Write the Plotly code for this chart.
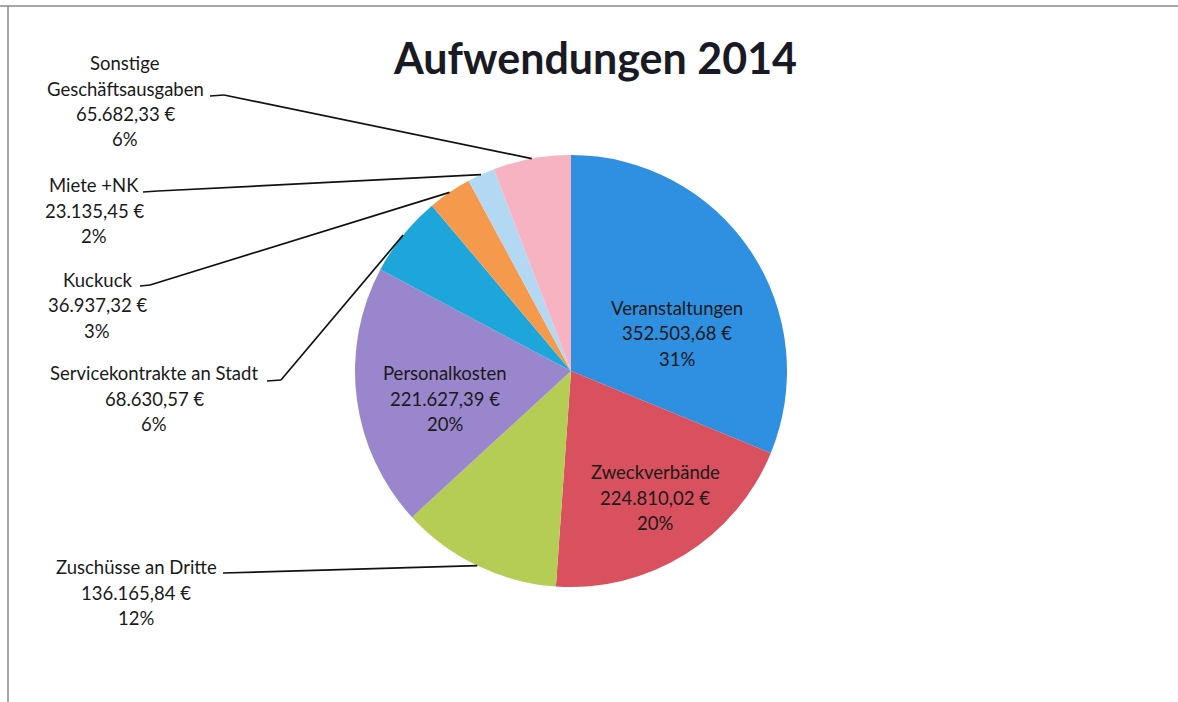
import math
import plotly.graph_objects as go

# ---- data ----
categories = ["Veranstaltungen", "Zweckverbände", "Zuschüsse an Dritte", "Personalkosten",
              "Servicekontrakte an Stadt", "Kuckuck", "Miete +NK", "Sonstige Geschäftsausgaben"]
values = [352503.68, 224810.02, 136165.84, 221627.39, 68630.57, 36937.32, 23135.45, 65682.33]
colors = ["#2f8fe0", "#d9505e", "#b6cd55", "#9a86cc", "#1ea6db", "#f59a4c", "#b3d8f3", "#f7b3c2"]
title_text = "Aufwendungen 2014"

W, H = 1178, 702
def px(x): return x / W
def py(y): return 1 - y / H

# pie geometry (pixels)
CX, CY, R = 571, 371, 216

total = sum(values)
def eur(v):
    s = f"{v:,.2f}"
    return s.replace(",", "X").replace(".", ",").replace("X", ".") + " €"

def label_lines(name, v):
    name_lines = ["Sonstige", "Geschäftsausgaben"] if name == "Sonstige Geschäftsausgaben" else [name]
    return name_lines + [eur(v), f"{round(v / total * 100):d}%"]

# label block layout: centre x, first-line y (pixels)
label_pos = {
    "Veranstaltungen": (677, 308),
    "Zweckverbände": (655, 472),
    "Personalkosten": (445, 373),
    "Zuschüsse an Dritte": (136, 567),
    "Servicekontrakte an Stadt": (154, 373),
    "Kuckuck": (97, 280),
    "Miete +NK": (94, 185),
    "Sonstige Geschäftsausgaben": (125, 63),
}
# leader line start segments (pixels), for outside labels
leader_start = {
    "Sonstige Geschäftsausgaben": [(210, 96), (224, 95)],
    "Miete +NK": [(143, 192), (158, 191)],
    "Kuckuck": [(140, 286), (150, 285)],
    "Servicekontrakte an Stadt": [(267, 381), (281, 380)],
    "Zuschüsse an Dritte": [(223, 573)],
}
LINE_GAP = 25.5
FONT = "Lato, Open Sans, sans-serif"
TXT = "#1a1a1a"

fig = go.Figure(go.Pie(
    labels=categories, values=values, sort=False, direction="clockwise", rotation=0,
    marker=dict(colors=colors, line=dict(width=0)),
    textinfo="none", hoverinfo="label+value+percent", showlegend=False,
    domain=dict(x=[px(CX - R), px(CX + R)], y=[py(CY + R), py(CY - R)]),
))

annotations = [dict(text=f"<b>{title_text}</b>", x=px(595), y=py(57), xref="paper", yref="paper",
                    showarrow=False, xanchor="center", yanchor="middle",
                    font=dict(family=FONT, size=43, color="#1a1a24"))]
for name, v in zip(categories, values):
    cx, y0 = label_pos[name]
    for i, line in enumerate(label_lines(name, v)):
        annotations.append(dict(text=line, x=px(cx), y=py(y0 + i * LINE_GAP), xref="paper", yref="paper",
                                showarrow=False, xanchor="center", yanchor="middle",
                                font=dict(family=FONT, size=18.5, color=TXT)))

shapes = []
# leader lines to slice mid-angle on pie edge
cum = 0.0
for name, v in zip(categories, values):
    frac_mid = (cum + v / 2) / total
    cum += v
    if name not in leader_start:
        continue
    th = 2 * math.pi * frac_mid
    ex, ey = CX + R * math.sin(th), CY - R * math.cos(th)
    pts = leader_start[name] + [(ex, ey)]
    for (x0, y0), (x1, y1) in zip(pts[:-1], pts[1:]):
        shapes.append(dict(type="line", xref="paper", yref="paper",
                           x0=px(x0), y0=py(y0), x1=px(x1), y1=py(y1),
                           line=dict(color="#111111", width=1.7)))

# frame lines (top and left)
shapes.append(dict(type="line", xref="paper", yref="paper", x0=0, y0=py(6), x1=1, y1=py(6),
                   line=dict(color="#8a8a8a", width=1.5)))
shapes.append(dict(type="line", xref="paper", yref="paper", x0=px(8), y0=py(6), x1=px(8), y1=0,
                   line=dict(color="#8a8a8a", width=1.5)))

fig.update_layout(width=W, height=H, margin=dict(l=0, r=0, t=0, b=0),
                  paper_bgcolor="white", plot_bgcolor="white",
                  annotations=annotations, shapes=shapes)
fig.write_html("out.html")
